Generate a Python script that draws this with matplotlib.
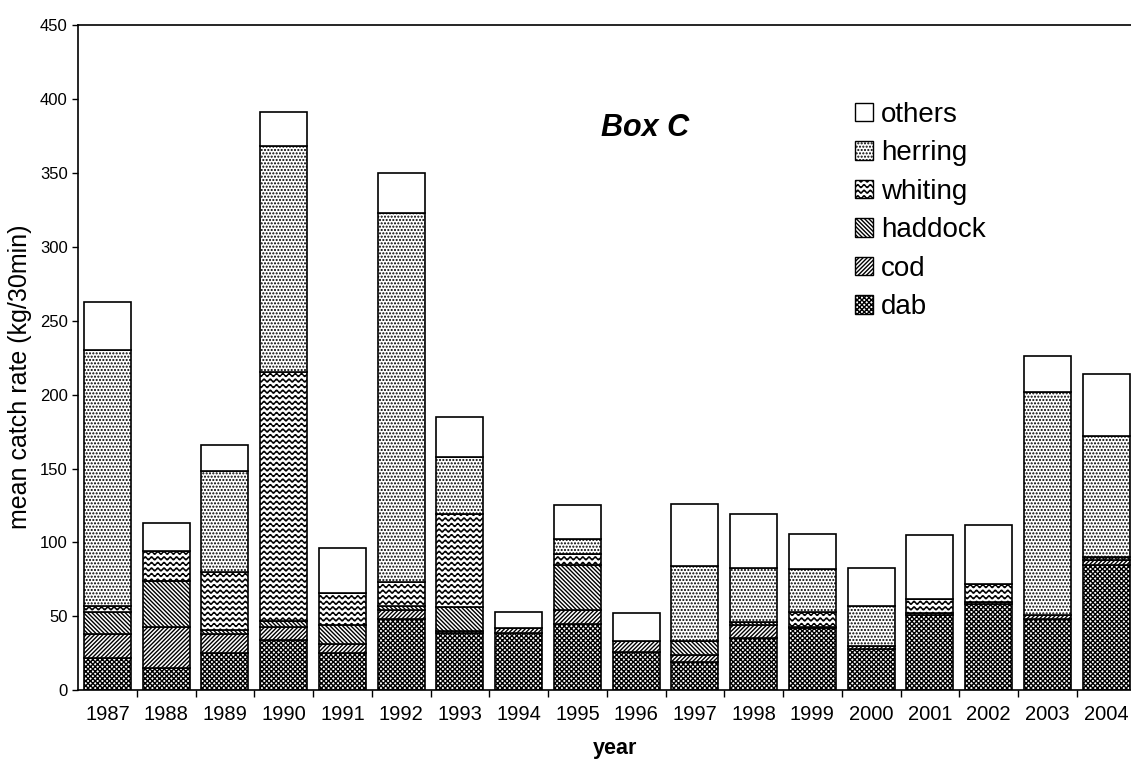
import numpy as np
import matplotlib
matplotlib.use("Agg")
import matplotlib.pyplot as plt
import matplotlib.hatch as mhatch
from matplotlib.path import Path
from matplotlib.patches import Patch
import warnings

# mean catch rate per species (kg/30min), Box C
years = [str(y) for y in range(1987, 2005)]
dab = [22, 15, 25, 34, 25, 48, 39, 39, 45, 26, 19, 35, 42, 28, 51, 58, 48, 85]
cod = [16, 28, 13, 9, 6, 6, 1, 3, 9, 7, 5, 9, 1, 2, 1, 2, 3, 3]
haddock = [15, 31, 3, 4, 13, 3, 16, 0, 31, 0, 9, 2, 0, 0, 0, 0, 0, 0]
whiting = [4, 20, 39, 168, 22, 16, 63, 0, 7, 0, 0, 0, 10, 0, 10, 12, 0, 2]
herring = [173, 0, 68, 153, 0, 250, 39, 0, 10, 0, 51, 37, 29, 27, 0, 0, 151, 82]
others = [33, 19, 18, 23, 30, 27, 27, 11, 23, 19, 42, 36, 24, 26, 43, 40, 24, 42]

species = ["dab", "cod", "haddock", "whiting", "herring", "others"]
series = [dab, cod, haddock, whiting, herring, others]
hatches = ["x" * 7, "/" * 8, "\\" * 8, "www", "." * 5, ""]


class WavyHatch(mhatch.HatchPatternBase):
    """wavy lines for the hatch character 'w'"""
    def __init__(self, hatch, density):
        self.num_lines = int(hatch.count("w") * density)
        self.pts = 200
        self.num_vertices = self.num_lines * self.pts

    def set_vertices_and_codes(self, vertices, codes):
        steps, step = np.linspace(0.0, 1.0, self.num_lines, False, retstep=True)
        steps += step / 2.0
        xs = np.linspace(0.0, 1.0, self.pts)
        periods = max(1, int(round(0.9 * self.num_lines)))
        amp = step * 0.27
        for i, s in enumerate(steps):
            chunk = slice(i * self.pts, (i + 1) * self.pts)
            vertices[chunk, 0] = xs
            vertices[chunk, 1] = s + amp * np.sin(2 * np.pi * periods * xs)
            codes[chunk] = Path.LINETO
            codes[i * self.pts] = Path.MOVETO


mhatch._hatch_types.append(WavyHatch)
warnings.filterwarnings("ignore")

plt.rcParams["font.family"] = ["Liberation Sans", "DejaVu Sans"]
plt.rcParams["hatch.linewidth"] = 1.0

fig = plt.figure(figsize=(11.31, 7.66), dpi=100)
ax = fig.add_axes([0.069, 0.099, 0.935, 0.868])

x = np.arange(len(years))
bottom = np.zeros(len(years))
handles = []
for name, vals, h in zip(species, series, hatches):
    ax.bar(x, vals, 0.8, bottom=bottom, color="white", edgecolor="black",
           hatch=h, linewidth=1.2)
    bottom += np.array(vals)
    handles.append(Patch(facecolor="white", edgecolor="black", hatch=h,
                         linewidth=1.0, label=name))

ax.set_xlim(-0.5, len(years) - 0.5)
ax.set_ylim(0, 450)
ax.set_yticks(range(0, 451, 50))
ax.set_xticks(x)
ax.set_xticklabels(years, fontsize=14.5)
ax.set_xticks(np.arange(0.5, len(years) - 0.5, 1), minor=True)
ax.tick_params(axis="x", which="major", length=0, pad=11)
ax.tick_params(axis="x", which="minor", length=5, width=1)
ax.tick_params(axis="y", length=4, width=1, labelsize=12)
ax.spines["right"].set_visible(False)
for s in ["left", "top", "bottom"]:
    ax.spines[s].set_linewidth(1.2)

ax.set_xlabel("year", fontsize=15.5, fontweight="bold")
ax.xaxis.set_label_coords(0.508, -0.072)
ax.set_ylabel("mean catch rate (kg/30min)", fontsize=18)
ax.yaxis.set_label_coords(-0.044, 0.472)

ax.text(0.570, 0.833, "Box C", transform=fig.transFigure, fontsize=22,
        fontweight="bold", fontstyle="italic", ha="center", va="center")

leg = ax.legend(handles=handles[::-1], loc="upper left",
                bbox_to_anchor=(0.7435, 0.885), bbox_transform=fig.transFigure,
                frameon=False, fontsize=20, handlelength=0.65, handleheight=0.65,
                handletextpad=0.3, labelspacing=0.45, borderpad=0)

fig.savefig("out.png", dpi=100)
